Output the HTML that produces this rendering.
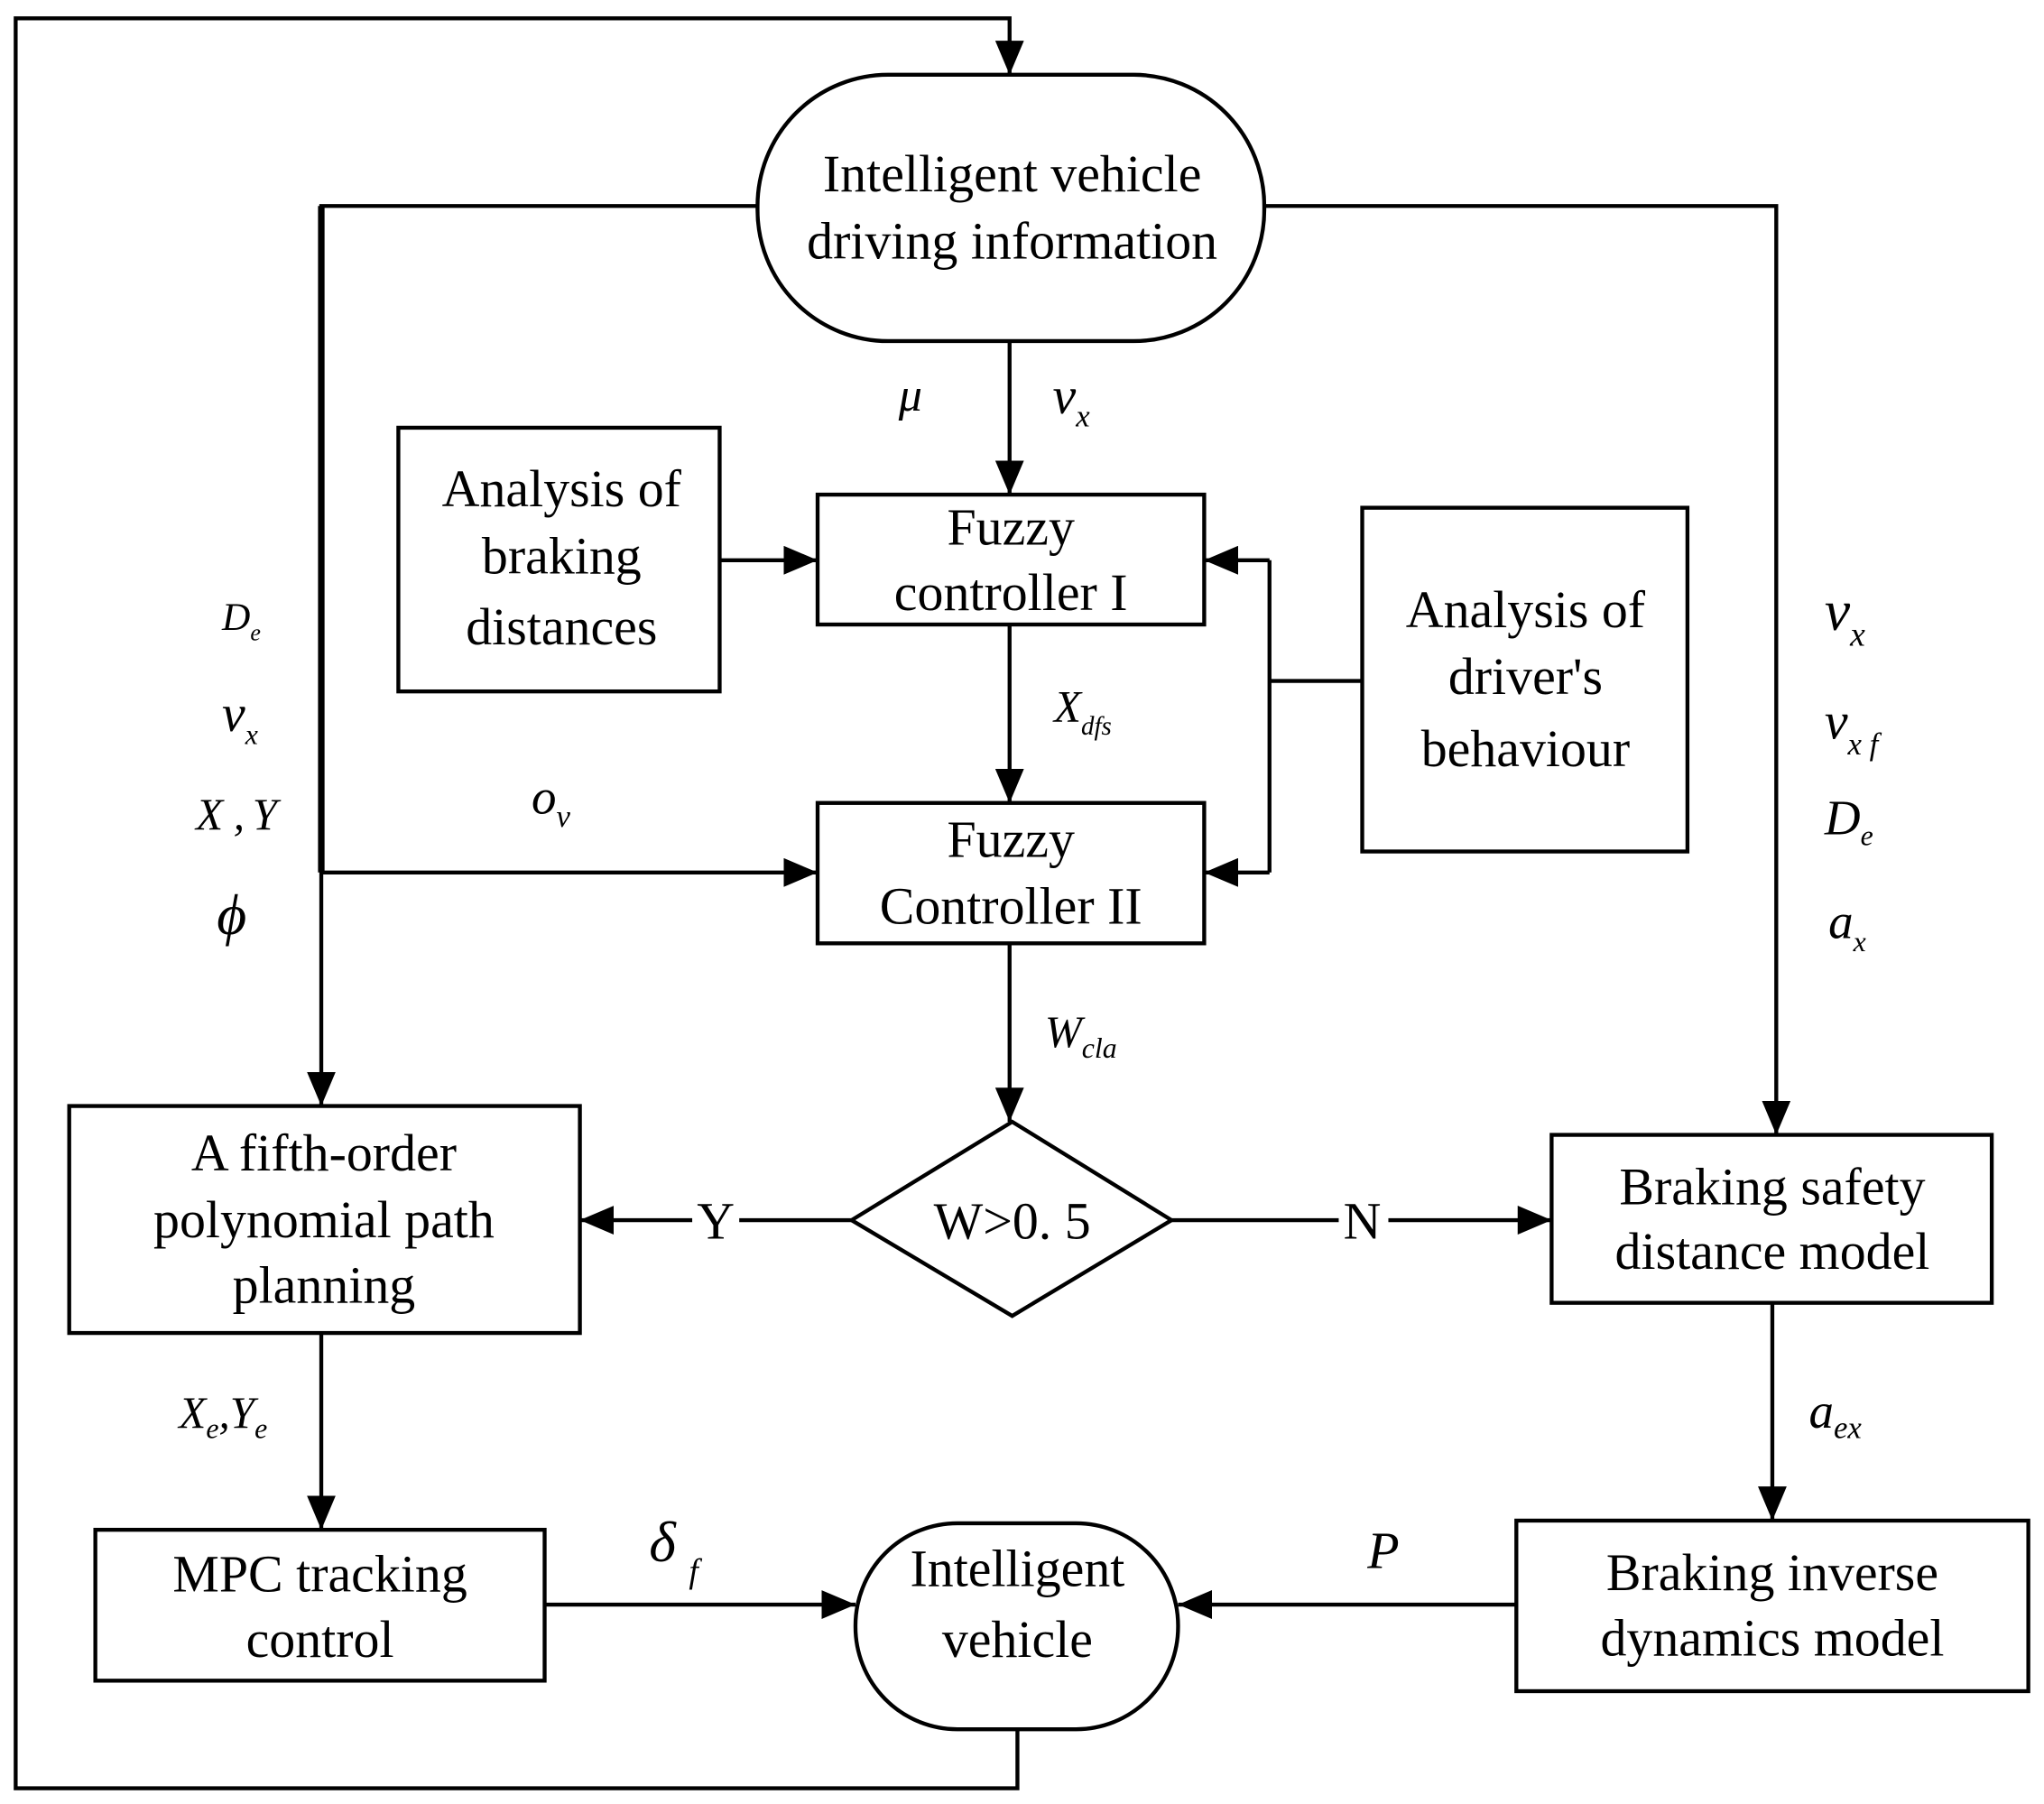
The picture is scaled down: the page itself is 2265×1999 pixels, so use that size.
<!DOCTYPE html>
<html><head><meta charset="utf-8"><style>
html,body{margin:0;padding:0;background:#fff;}
svg{display:block;}
text{font-family:"Liberation Serif",serif;fill:#000;}
.b{font-size:40px;text-anchor:middle;}
.m{font-style:italic;}
</style></head><body>
<svg width="2265" height="1999" viewBox="0 0 1565 1375" preserveAspectRatio="none" xmlns="http://www.w3.org/2000/svg">
<defs>
<marker id="A" markerWidth="26" markerHeight="22" refX="26" refY="11" orient="auto" markerUnits="userSpaceOnUse"><path d="M0,0 L26,11 L0,22 z" fill="#000"/></marker></defs>
<g stroke="#000" stroke-width="3" fill="none">
<polyline points="779,1318 779,1363 12,1363 12,14 773,14 773,57" marker-end="url(#A)"/>
<polyline points="580,157 246,157 246,843" marker-end="url(#A)"/>
<line x1="246" y1="157" x2="246" y2="665" stroke-width="5"/>
<line x1="246" y1="665" x2="626" y2="665" marker-end="url(#A)"/>
<polyline points="968,157 1360,157 1360,865" marker-end="url(#A)"/>
<line x1="773" y1="260" x2="773" y2="377" marker-end="url(#A)"/>
<line x1="551" y1="427" x2="626" y2="427" marker-end="url(#A)"/>
<line x1="773" y1="476" x2="773" y2="612" marker-end="url(#A)"/>
<line x1="1043" y1="519" x2="972" y2="519"/>
<line x1="972" y1="427" x2="972" y2="665"/>
<line x1="972" y1="427" x2="922" y2="427" marker-end="url(#A)"/>
<line x1="972" y1="665" x2="922" y2="665" marker-end="url(#A)"/>
<line x1="773" y1="719" x2="773" y2="855" marker-end="url(#A)"/>
<line x1="652" y1="930" x2="444" y2="930" marker-end="url(#A)"/>
<line x1="897" y1="930" x2="1188" y2="930" marker-end="url(#A)"/>
<line x1="246" y1="1016" x2="246" y2="1166" marker-end="url(#A)"/>
<line x1="1357" y1="993" x2="1357" y2="1159" marker-end="url(#A)"/>
<line x1="417" y1="1223" x2="655" y2="1223" marker-end="url(#A)"/>
<line x1="1161" y1="1223" x2="902" y2="1223" marker-end="url(#A)"/>
</g>
<g stroke="#000" stroke-width="3" fill="#fff">
<rect x="580" y="57" width="388" height="203" rx="100" ry="100"/>
<rect x="305" y="326" width="246" height="201"/>
<rect x="626" y="377" width="296" height="99"/>
<rect x="626" y="612" width="296" height="107"/>
<rect x="1043" y="387" width="249" height="262"/>
<polygon points="652,930 775,855 897,930 775,1003"/>
<rect x="53" y="843" width="391" height="173"/>
<rect x="1188" y="865" width="337" height="128"/>
<rect x="73" y="1166" width="344" height="115"/>
<rect x="1161" y="1159" width="392" height="130"/>
<rect x="655" y="1161" width="247" height="157" rx="78" ry="78"/>
</g>
<rect x="530" y="910" width="36" height="40" fill="#fff"/>
<rect x="1025" y="910" width="38" height="40" fill="#fff"/>
<g class="b">
<text x="775" y="146">Intelligent vehicle</text>
<text x="775" y="197">driving information</text>
<text x="430" y="386">Analysis of</text>
<text x="430" y="437">braking</text>
<text x="430" y="491">distances</text>
<text x="774" y="415">Fuzzy</text>
<text x="774" y="465">controller I</text>
<text x="774" y="653">Fuzzy</text>
<text x="774" y="704">Controller II</text>
<text x="1168" y="478">Analysis of</text>
<text x="1168" y="529">driver's</text>
<text x="1168" y="584">behaviour</text>
<text x="775" y="944">W&gt;0. 5</text>
<text x="548" y="944">Y</text>
<text x="1043" y="944">N</text>
<text x="248" y="892">A fifth-order</text>
<text x="248" y="943">polynomial path</text>
<text x="248" y="993">planning</text>
<text x="1357" y="918">Braking safety</text>
<text x="1357" y="967">distance model</text>
<text x="245" y="1213">MPC tracking</text>
<text x="245" y="1263">control</text>
<text x="1357" y="1212">Braking inverse</text>
<text x="1357" y="1262">dynamics model</text>
<text x="779" y="1209">Intelligent</text>
<text x="779" y="1263">vehicle</text>
</g>
<g class="m">
<text x="688" y="313" font-size="36">μ</text>
<text x="806" y="315" font-size="40">v<tspan font-size="24" dy="10">x</tspan></text>
<text x="170" y="480" font-size="30">D<tspan font-size="18" dy="8">e</tspan></text>
<text x="170" y="557" font-size="40">v<tspan font-size="22" dy="10">x</tspan></text>
<text x="150" y="632" font-size="34">X<tspan dx="8">,</tspan><tspan dx="6">Y</tspan></text>
<text x="166" y="712" font-size="44">ϕ</text>
<text x="407" y="620" font-size="38">o<tspan font-size="24" dy="10">v</tspan></text>
<text x="807" y="550" font-size="34">X<tspan font-size="20" dy="10">dfs</tspan></text>
<text x="800" y="798" font-size="34">W<tspan font-size="22" dy="8">cla</tspan></text>
<text x="1397" y="480" font-size="44">v<tspan font-size="26" dy="12">x</tspan></text>
<text x="1397" y="563" font-size="40">v<tspan font-size="24" dy="12">x f</tspan></text>
<text x="1397" y="636" font-size="38">D<tspan font-size="22" dy="8">e</tspan></text>
<text x="1400" y="715" font-size="38">a<tspan font-size="22" dy="10">x</tspan></text>
<text x="137" y="1088" font-size="34">X<tspan font-size="22" dy="8">e</tspan><tspan dy="-8">,</tspan><tspan>Y</tspan><tspan font-size="22" dy="8">e</tspan></text>
<text x="1385" y="1088" font-size="38">a<tspan font-size="24" dy="8">ex</tspan></text>
<text x="497" y="1190" font-size="44">δ<tspan font-size="26" dx="10" dy="16">f</tspan></text>
<text x="1047" y="1195" font-size="40">P</text>
</g>
</svg>
</body></html>
